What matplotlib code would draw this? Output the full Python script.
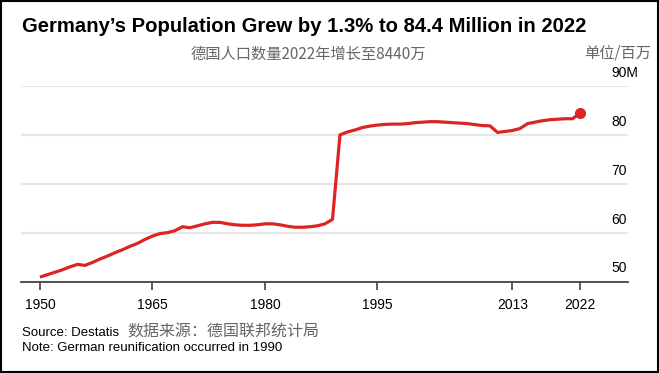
import matplotlib
matplotlib.use("Agg")
import matplotlib.pyplot as plt
from matplotlib.patches import Rectangle

# West Germany until 1989, unified Germany from 1990 (millions)
years = list(range(1950, 2023))
population = [
    50.9, 51.4, 51.9, 52.4, 53.0, 53.5, 53.3, 53.9, 54.6, 55.2,
    55.9, 56.5, 57.2, 57.8, 58.6, 59.3, 59.8, 60.0, 60.4, 61.2,
    61.0, 61.4, 61.8, 62.1, 62.1, 61.8, 61.6, 61.5, 61.5, 61.6,
    61.8, 61.8, 61.6, 61.3, 61.1, 61.1, 61.2, 61.4, 61.8, 62.7,
    80.0, 80.6, 81.0, 81.5, 81.8, 82.0, 82.15, 82.2, 82.2, 82.3,
    82.5, 82.6, 82.7, 82.7, 82.6, 82.5, 82.4, 82.3, 82.1, 81.9,
    81.85, 80.5, 80.7, 80.9, 81.3, 82.3, 82.6, 82.9, 83.1, 83.2,
    83.3, 83.3, 84.4,
]
xticks = [1950, 1965, 1980, 1995, 2013, 2022]
yticks = [50, 60, 70, 80, 90]
ylabels = ["50", "60", "70", "80", "90M"]

title = "Germany\u2019s Population Grew by 1.3% to 84.4 Million in 2022"
subtitle = "德国人口数量2022年增长至8440万"
unit = "单位/百万"
source_en = "Source: Destatis"
source_cn = "数据来源：德国联邦统计局"
note = "Note: German reunification occurred in 1990"

W, H = 659, 373
red = "#dd2424"
latin = ["Liberation Sans", "DejaVu Sans"]
cjk = ["Noto Sans CJK SC", "DejaVu Sans"]
plt.rcParams["font.family"] = latin

fig = plt.figure(figsize=(W / 100, H / 100), dpi=100)
ax = fig.add_axes([21 / W, (H - 281.5) / H, (628 - 21) / W, (281.5 - 86) / H])

ax.plot(years, population, color=red, lw=2.3, solid_capstyle="butt",
        solid_joinstyle="round", zorder=3, clip_on=False)
ax.plot(years[-1], population[-1], "o", color=red, ms=7, zorder=4, clip_on=False)

ax.set_xlim(1947.47, 2028.4)
ax.set_ylim(50, 90)
ax.set_xticks(xticks)
ax.set_xticklabels([str(y) for y in xticks])
ax.set_yticks(yticks)
ax.tick_params(axis="y", left=False, labelleft=False)
ax.tick_params(axis="x", length=6, width=1.2, color="#444444", pad=6,
               labelsize=10, labelcolor="black")
ax.grid(axis="y", color="#e6e6e6", lw=1.5, zorder=0)
for s in ["top", "right", "left"]:
    ax.spines[s].set_visible(False)
ax.spines["bottom"].set_color("#444444")
ax.spines["bottom"].set_linewidth(1.3)
ax.spines["bottom"].set_zorder(5)

# value labels sit just above their gridlines, near the right end
for v, lab in zip(yticks, ylabels):
    ax.annotate(lab, xy=(0, v), xycoords=("axes fraction", "data"),
                xytext=((611 - 21) * 0.72, 6.5), textcoords="offset points",
                ha="left", va="baseline", fontsize=10, color="black")

fig.text(22 / W, 1 - 32 / H, title, fontsize=14.6, fontweight="bold",
         ha="left", va="baseline", color="black")
fig.text(308 / W, 1 - 54.5 / H, subtitle, family=cjk, fontsize=11,
         color="#666666", ha="center", va="center")
fig.text(651 / W, 1 - 53 / H, unit, family=cjk, fontsize=11,
         color="#666666", ha="right", va="center")
fig.text(22 / W, 1 - 333 / H, source_en, fontsize=9.5, ha="left", va="center")
fig.text(127 / W, 1 - 332 / H, source_cn, family=cjk, fontsize=11.5,
         color="#666666", ha="left", va="center")
fig.text(22 / W, 1 - 348 / H, note, fontsize=9.5, ha="left", va="center")

fig.patches.append(Rectangle((0.5 / W, 1 / H), 657 / W, 371.5 / H,
                             transform=fig.transFigure, fill=False,
                             edgecolor="black", lw=1.5))

fig.savefig("out.png", dpi=100)
